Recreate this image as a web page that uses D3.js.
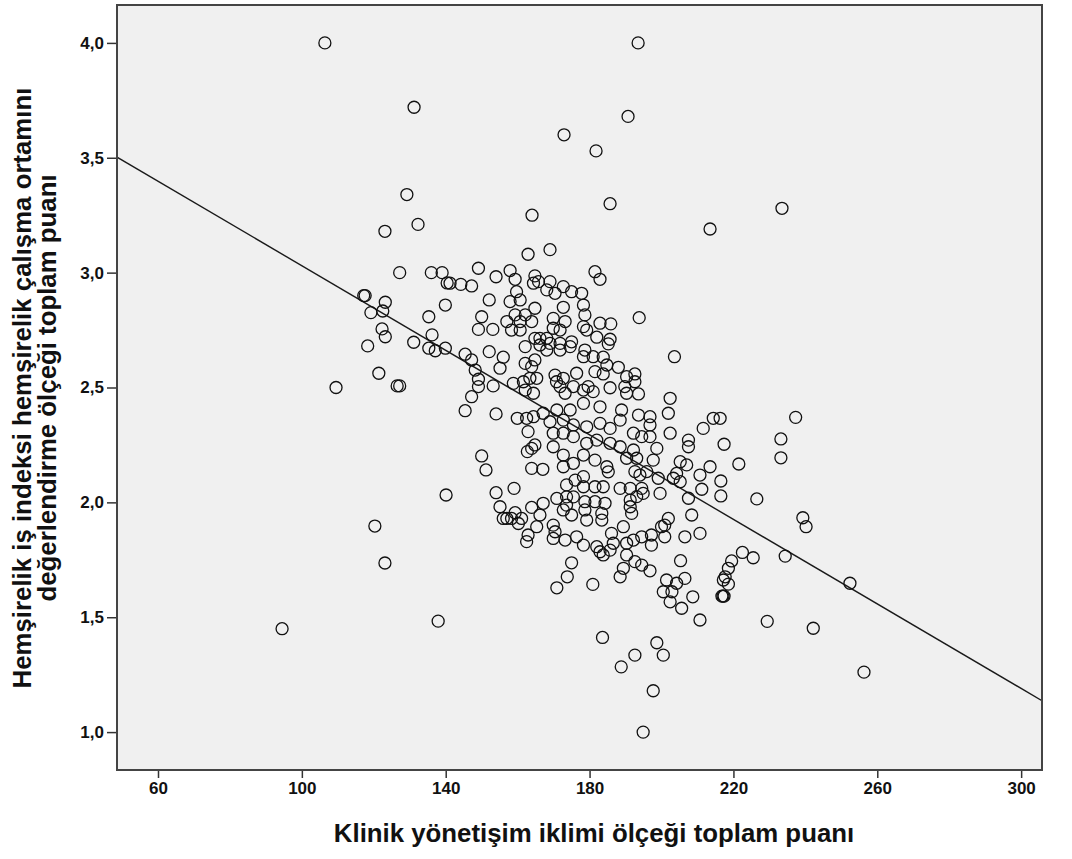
<!DOCTYPE html>
<html><head><meta charset="utf-8">
<script src="https://cdn.jsdelivr.net/npm/d3@7"></script>
<style>html,body{margin:0;padding:0;background:#fff;}svg{display:block;}</style>
</head><body>
<script>
// ---- data (x = Klinik yönetişim iklimi, y = Hemşirelik iş indeksi) ----
const xTicks = [60, 100, 140, 180, 220, 260, 300];
const yTicks = [1.0, 1.5, 2.0, 2.5, 3.0, 3.5, 4.0];
const xTitle = "Klinik yönetişim iklimi ölçeği toplam puanı";
const yTitleLines = ["Hemşirelik iş indeksi hemşirelik çalışma ortamını", "değerlendirme ölçeği toplam puanı"];
const fitCoef = [3.950, -0.00920]; // intercept, slope

const leftPoints = [[94.5,1.45],[109.5,2.50],[117.2,2.90],[117.6,2.90],[127.2,3.00],[136.0,3.00],[139.0,3.00],[140.4,2.955],[123.2,2.871],[119.2,2.826],[122.5,2.833],[135.3,2.808],[139.9,2.859],[122.3,2.755],[123.2,2.721],[131.1,2.697],[136.2,2.729],[135.3,2.671],[137.1,2.660],[139.9,2.671],[118.3,2.681],[121.4,2.562],[126.5,2.507],[127.2,2.507],[120.3,1.897],[123.1,1.736],[137.9,1.483],[140.1,2.032]];
const topPoints = [[106.4,4.0],[193.5,4.0],[131.2,3.72],[190.7,3.68],[172.9,3.60],[181.8,3.53],[129.2,3.34],[185.7,3.30],[233.5,3.28],[164.0,3.25],[132.3,3.21],[213.5,3.19],[123.1,3.18],[169.0,3.10],[162.9,3.08]];
const upperLeftCluster = [[149.1,3.019],[154.0,2.982],[157.9,3.009],[159.3,2.971],[164.8,2.986],[164.4,2.954],[165.8,2.961],[141.2,2.954],[144.2,2.949],[147.2,2.942],[169.0,2.961],[168.1,2.925],[170.4,2.910],[172.7,2.939],[175.0,2.917],[159.7,2.917],[160.7,2.881],[152.1,2.881],[157.9,2.874],[172.7,2.849],[164.8,2.845],[150.0,2.808],[159.3,2.816],[162.1,2.816],[157.0,2.787],[160.7,2.787],[163.9,2.787],[169.9,2.801],[173.2,2.787],[149.1,2.753],[153.1,2.753],[158.3,2.750],[160.7,2.750],[169.9,2.758],[171.8,2.750],[164.8,2.714],[166.2,2.714],[168.1,2.714],[162.1,2.678],[166.2,2.685],[169.0,2.692],[171.8,2.692],[175.0,2.699],[145.4,2.645],[147.2,2.620],[152.1,2.656],[156.0,2.632],[155.1,2.584],[162.1,2.605],[163.9,2.591],[164.8,2.620],[168.1,2.663],[171.8,2.663],[174.6,2.678],[148.2,2.576],[149.1,2.536],[149.1,2.504],[153.2,2.507],[158.8,2.518],[161.6,2.525],[163.4,2.540],[165.3,2.540],[162.1,2.489],[164.4,2.475],[170.4,2.554],[172.7,2.540],[170.8,2.525],[171.8,2.504],[173.2,2.475],[175.5,2.504],[176.4,2.562],[147.2,2.460]];
const upperRightCluster = [[181.5,3.004],[182.9,2.971],[177.8,2.910],[178.3,2.859],[178.7,2.816],[193.8,2.804],[182.9,2.780],[185.9,2.777],[178.3,2.765],[179.2,2.750],[182.0,2.719],[185.7,2.710],[185.2,2.690],[178.7,2.663],[178.3,2.634],[181.0,2.634],[183.8,2.632],[203.6,2.634],[184.8,2.598],[188.0,2.588],[181.5,2.569],[183.8,2.559],[190.3,2.547],[192.6,2.559],[192.6,2.525],[189.8,2.504],[185.7,2.499],[179.6,2.504],[181.0,2.482],[178.3,2.489],[193.6,2.472],[190.3,2.475],[202.4,2.453]];
const lowerLeftCluster = [[145.4,2.399],[154.0,2.385],[159.9,2.366],[162.5,2.366],[164.4,2.373],[167.1,2.388],[162.9,2.308],[169.0,2.351],[170.9,2.402],[172.7,2.358],[174.6,2.402],[175.5,2.337],[169.9,2.301],[172.7,2.301],[175.5,2.286],[150.0,2.202],[151.2,2.141],[162.7,2.221],[164.8,2.250],[163.9,2.235],[169.9,2.242],[172.7,2.206],[163.9,2.148],[167.0,2.144],[172.7,2.155],[175.5,2.170],[154.0,2.042],[159.0,2.061],[173.6,2.076],[176.0,2.097],[170.9,2.017],[173.6,2.024],[175.5,2.024],[155.1,1.981],[156.0,1.930],[157.0,1.930],[158.3,1.930],[159.3,1.955],[161.1,1.930],[163.9,1.978],[167.1,1.996],[166.2,1.945],[160.2,1.908],[165.3,1.894],[169.9,1.901],[170.4,1.872],[172.7,1.967],[173.6,1.988],[175.0,1.945],[162.9,1.858],[162.5,1.829],[169.9,1.843],[173.2,1.836],[176.4,1.850]];
const lowerRightCluster = [[178.3,2.431],[182.9,2.416],[188.9,2.402],[193.6,2.380],[196.8,2.373],[201.9,2.388],[214.4,2.366],[216.3,2.366],[211.6,2.322],[202.4,2.301],[207.5,2.271],[207.5,2.242],[196.8,2.337],[192.2,2.301],[194.5,2.286],[196.8,2.286],[179.2,2.329],[182.9,2.344],[185.7,2.322],[188.5,2.358],[179.2,2.257],[182.0,2.271],[185.7,2.257],[188.5,2.242],[192.2,2.228],[198.7,2.235],[193.1,2.192],[197.7,2.184],[178.3,2.206],[181.5,2.184],[184.8,2.155],[185.2,2.133],[190.3,2.192],[205.2,2.177],[207.0,2.163],[213.5,2.155],[210.7,2.119],[204.2,2.126],[203.3,2.105],[199.1,2.105],[195.9,2.134],[194.0,2.119],[192.6,2.134],[178.3,2.112],[178.3,2.068],[181.5,2.068],[183.8,2.068],[188.5,2.061],[191.3,2.061],[194.5,2.061],[194.9,2.039],[199.6,2.039],[205.2,2.090],[211.2,2.057],[207.5,2.018],[191.3,2.010],[193.1,2.025],[178.7,2.003],[181.5,2.003],[184.3,1.996],[191.3,1.981],[191.7,1.952],[208.4,1.945],[178.7,1.967],[183.4,1.952],[183.4,1.923],[179.2,1.923],[201.9,1.930],[200.9,1.901],[200.0,1.894],[189.4,1.894],[186.1,1.865],[186.6,1.822],[190.3,1.822],[192.2,1.836],[194.5,1.850],[197.2,1.858],[200.9,1.850],[206.5,1.850],[210.7,1.865],[178.3,1.814],[182.0,1.807],[197.2,1.814]];
const bottomPoints = [[175.0,1.737],[173.8,1.676],[170.9,1.628],[182.9,1.785],[183.8,1.771],[185.7,1.792],[205.3,1.746],[190.3,1.771],[192.6,1.742],[194.5,1.727],[196.8,1.702],[189.4,1.713],[188.5,1.676],[180.9,1.643],[201.4,1.662],[204.2,1.648],[206.5,1.669],[200.5,1.611],[202.9,1.611],[202.4,1.567],[205.6,1.539],[208.7,1.589],[210.7,1.488],[183.6,1.412],[198.7,1.389],[200.5,1.335],[192.6,1.335],[188.8,1.284],[197.7,1.180],[194.9,1.000]];
const rightPoints = [[237.3,2.370],[233.2,2.276],[233.2,2.194],[217.4,2.253],[221.5,2.167],[216.5,2.093],[216.5,2.028],[226.5,2.015],[239.3,1.933],[240.2,1.894],[234.4,1.766],[222.5,1.782],[225.5,1.759],[219.5,1.745],[218.6,1.713],[217.7,1.676],[218.6,1.644],[217.2,1.662],[216.8,1.592],[217.4,1.592],[217.1,1.592],[252.4,1.648],[229.4,1.482],[242.2,1.452],[256.3,1.261]];

const allPoints = [].concat(leftPoints, topPoints, upperLeftCluster, upperRightCluster, lowerLeftCluster, lowerRightCluster, bottomPoints, rightPoints);

// ---- layout ----
const W = 1072, H = 859;
const plot = {left: 117, top: 5, right: 1042, bottom: 770};
const font = "'Liberation Sans', Arial, sans-serif";

const svg = d3.select("body").append("svg").attr("width", W).attr("height", H);
svg.append("rect").attr("width", W).attr("height", H).attr("fill", "#fff");

const x = d3.scaleLinear().domain([48.6, 305.8]).range([plot.left, plot.right]);
const y = d3.scaleLinear().domain([0.835, 4.165]).range([plot.bottom, plot.top]);

svg.append("rect")
  .attr("x", plot.left).attr("y", plot.top)
  .attr("width", plot.right - plot.left).attr("height", plot.bottom - plot.top)
  .attr("fill", "#f0f0f0");

svg.append("clipPath").attr("id", "clip").append("rect")
  .attr("x", plot.left).attr("y", plot.top)
  .attr("width", plot.right - plot.left).attr("height", plot.bottom - plot.top);

const g = svg.append("g").attr("clip-path", "url(#clip)");

// regression line
const xd = x.domain();
g.append("line")
  .attr("x1", x(xd[0])).attr("y1", y(fitCoef[0] + fitCoef[1] * xd[0]))
  .attr("x2", x(xd[1])).attr("y2", y(fitCoef[0] + fitCoef[1] * xd[1]))
  .attr("stroke", "#1a1a1a").attr("stroke-width", 1.4);

// points
g.selectAll("circle.pt").data(allPoints).join("circle")
  .attr("class", "pt")
  .attr("cx", d => x(d[0])).attr("cy", d => y(d[1]))
  .attr("r", 6)
  .attr("fill", "none").attr("stroke", "#111").attr("stroke-width", 1.3);

// axes
const fmtY = v => d3.format(".1f")(v).replace(".", ",");
const xAxis = d3.axisBottom(x).tickValues(xTicks).tickSize(8).tickPadding(4).tickFormat(d3.format("d"));
const yAxis = d3.axisLeft(y).tickValues(yTicks).tickSize(10).tickPadding(3).tickFormat(fmtY);

const gx = svg.append("g").attr("transform", `translate(0,${plot.bottom})`).call(xAxis);
const gy = svg.append("g").attr("transform", `translate(${plot.left},0)`).call(yAxis);
[gx, gy].forEach(a => {
  a.select(".domain").remove();
  a.selectAll(".tick line").attr("stroke", "#333").attr("stroke-width", 1.5);
  a.selectAll(".tick text").attr("fill", "#111")
    .style("font-family", font)
    .style("font-weight", "bold").style("font-size", "17px");
});

// frame
svg.append("rect")
  .attr("x", plot.left).attr("y", plot.top)
  .attr("width", plot.right - plot.left).attr("height", plot.bottom - plot.top)
  .attr("fill", "none").attr("stroke", "#444").attr("stroke-width", 2);

// titles
svg.append("text")
  .attr("x", 594).attr("y", 842)
  .attr("text-anchor", "middle")
  .style("font-family", font)
  .style("font-weight", "bold").style("font-size", "25.8px").attr("fill", "#111")
  .text(xTitle);

const yc = 388;
yTitleLines.forEach((t, i) => {
  svg.append("text")
    .attr("transform", `translate(${31 + i * 25},${yc}) rotate(-90)`)
    .attr("text-anchor", "middle")
    .style("font-family", font)
    .style("font-weight", "bold").style("font-size", "25.8px").attr("fill", "#111")
    .text(t);
});
</script>
</body></html>
